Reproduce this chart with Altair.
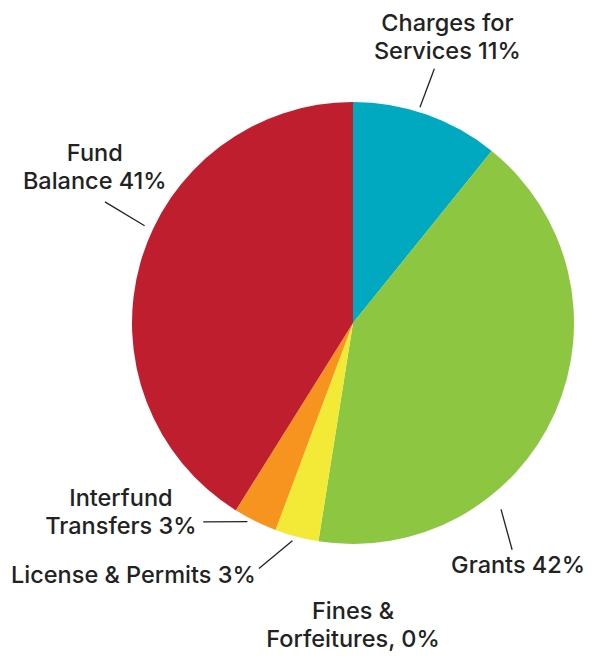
import altair as alt
import pandas as pd

# data
categories = ["Charges for Services", "Grants", "Fines & Forfeitures",
              "License & Permits", "Interfund Transfers", "Fund Balance"]
shares = [10.8, 41.7, 0.0, 3.2, 3.2, 41.1]
labels = ["Charges for\nServices 11%", "Grants 42%", "Fines &\nForfeitures, 0%",
          "License & Permits 3%", "Interfund\nTransfers 3%", "Fund\nBalance 41%"]
slice_colors = ["#00A9BF", "#8DC641", "#BBBBBB", "#F2EA36", "#F7941F", "#BE1E2D"]

# label placement (style): angular offset from slice middle (deg) and radius (px)
text_dang = [-1.1, 31.9, -9.0, 26.2, 24.4, 14.9]
text_rad = [300, 294, 303, 335, 300, 301]
line_dang1 = [-2.2, 27.6, 0, 0.8, 1.7, 9.0]
line_rad1 = [226, 238, 0, 226, 225, 230]
line_dang2 = [-1.7, 31.0, 0, 6.2, 10.7, 10.0]
line_rad2 = [267, 277, 0, 263, 249, 276]
has_line = [1, 1, 0, 1, 1, 1]

CX, CY, R = 345, 315, 221
LH = 28

df = pd.DataFrame({
    "category": categories, "share": shares, "label": labels,
    "order": list(range(len(categories))),
    "tda": text_dang, "tr": text_rad,
    "la1": line_dang1, "lr1": line_rad1, "la2": line_dang2, "lr2": line_rad2,
    "hl": has_line,
})

base = alt.Chart(df).transform_window(
    cum="sum(share)", sort=[alt.SortField("order")], frame=[None, 0]
).transform_joinaggregate(total="sum(share)").transform_calculate(
    mid="(datum.cum - datum.share/2) / datum.total * 360"
)

pie = alt.Chart(df).mark_arc(outerRadius=R).encode(
    theta=alt.Theta("share:Q", stack=True),
    order=alt.Order("order:Q"),
    color=alt.Color("category:N", scale=alt.Scale(domain=categories, range=slice_colors), legend=None),
    x=alt.value(CX), y=alt.value(CY),
)

text = base.transform_calculate(
    a="(datum.mid + datum.tda) * PI / 180",
    nl="length(split(datum.label, '\\n'))",
    px=f"{CX} + datum.tr * sin(datum.a)",
    py=f"{CY} - datum.tr * cos(datum.a) - (datum.nl - 1) * {LH} / 2",
).mark_text(font="Inter", fontSize=23.5, fontWeight=500, color="#222222", align="center",
            baseline="middle", lineBreak="\n", lineHeight=LH).encode(
    x=alt.X("px:Q", scale=None), y=alt.Y("py:Q", scale=None), text="label:N"
)

lines = base.transform_filter("datum.hl == 1").transform_calculate(
    a1="(datum.mid + datum.la1) * PI / 180",
    a2="(datum.mid + datum.la2) * PI / 180",
    x1=f"{CX} + datum.lr1 * sin(datum.a1)",
    y1=f"{CY} - datum.lr1 * cos(datum.a1)",
    x2=f"{CX} + datum.lr2 * sin(datum.a2)",
    y2=f"{CY} - datum.lr2 * cos(datum.a2)",
).mark_rule(color="#222222", strokeWidth=1.3).encode(
    x=alt.X("x1:Q", scale=None), y=alt.Y("y1:Q", scale=None),
    x2="x2:Q", y2="y2:Q",
)

chart = alt.layer(pie, lines, text).properties(
    width=579, height=646, padding=0,
    autosize=alt.AutoSizeParams(type="none"),
).configure_view(stroke=None)

chart.save("out.html", embed_options={"renderer": "svg", "actions": False})
